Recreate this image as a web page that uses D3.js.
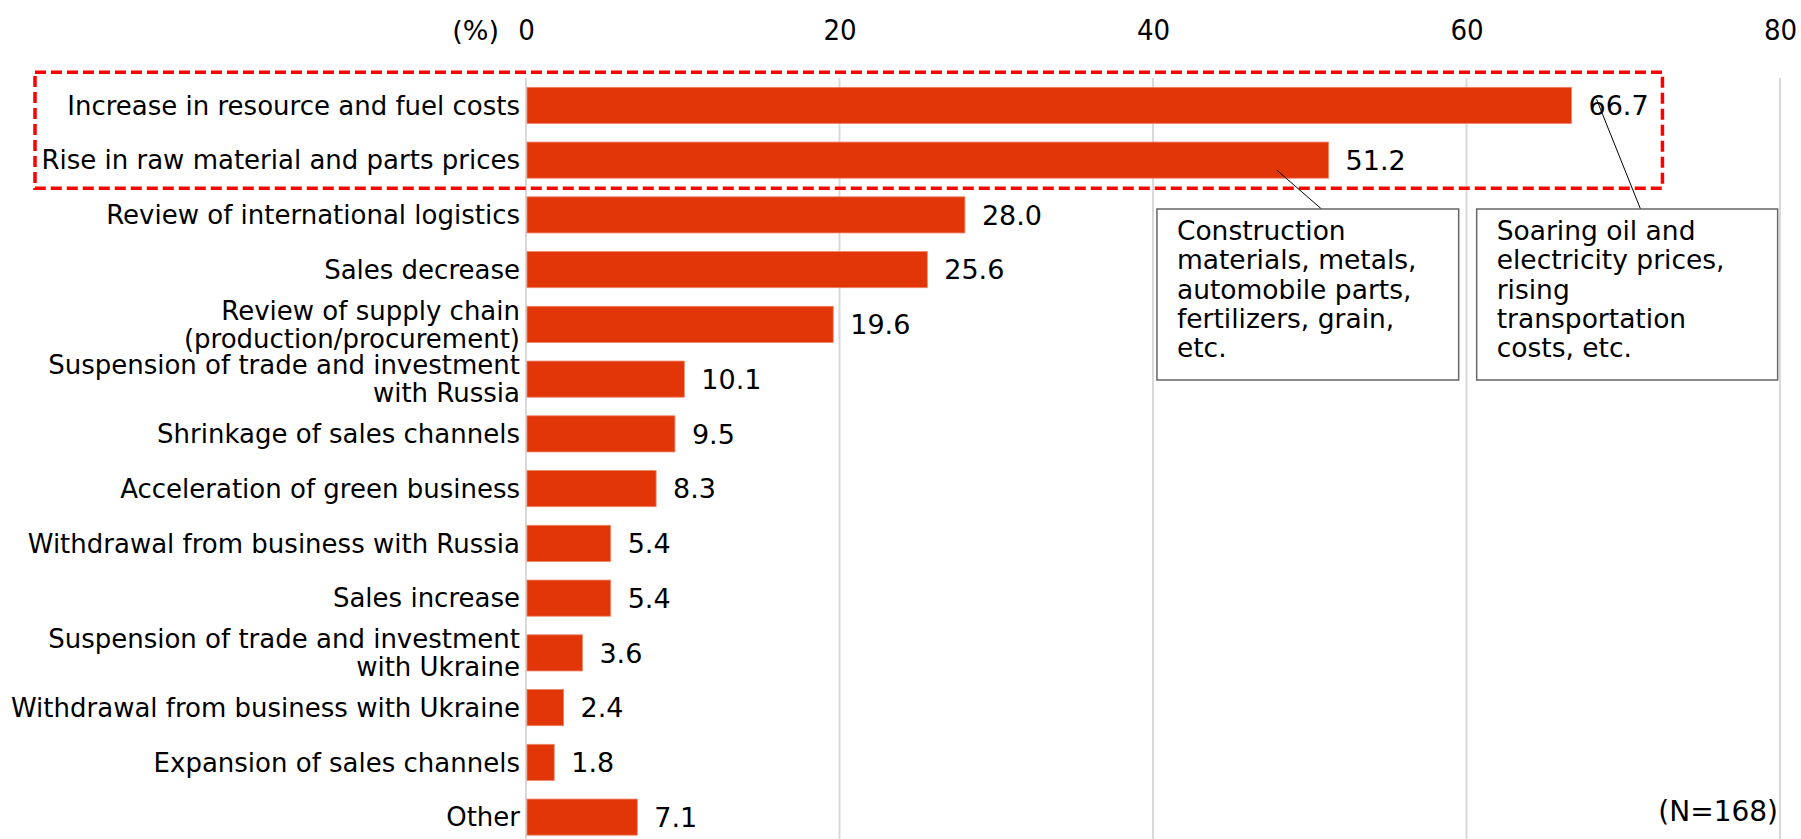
<!DOCTYPE html>
<html>
<head>
<meta charset="utf-8">
<script src="https://cdn.jsdelivr.net/npm/d3@7"></script>
<style>
  html, body { margin: 0; padding: 0; background: #fff; }
  svg { display: block; }
</style>
</head>
<body>
<svg id="chart" width="1801" height="839"></svg>
<script>
// ---- data ----
const categories = [
  "Increase in resource and fuel costs",
  "Rise in raw material and parts prices",
  "Review of international logistics",
  "Sales decrease",
  "Review of supply chain\n(production/procurement)",
  "Suspension of trade and investment\nwith Russia",
  "Shrinkage of sales channels",
  "Acceleration of green business",
  "Withdrawal from business with Russia",
  "Sales increase",
  "Suspension of trade and investment\nwith Ukraine",
  "Withdrawal from business with Ukraine",
  "Expansion of sales channels",
  "Other"
];
const values = [66.7, 51.2, 28.0, 25.6, 19.6, 10.1, 9.5, 8.3, 5.4, 5.4, 3.6, 2.4, 1.8, 7.1];
const xTicks = [0, 20, 40, 60, 80];
const unitLabel = "(%)";
const noteLabel = "(N=168)";
const calloutMaterials = ["Construction", "materials, metals,", "automobile parts,", "fertilizers, grain,", "etc."];
const calloutFuel = ["Soaring oil and", "electricity prices,", "rising", "transportation", "costs, etc."];

// ---- layout ----
const svg = d3.select("#chart");
const W = 1801, H = 839;
const x0 = 526, x1 = 1780;
const x = d3.scaleLinear().domain([0, 80]).range([x0, x1]);
const y = d3.scaleBand().domain(categories).range([78, 844.5]).paddingInner(0.34).paddingOuter(0.17);

const FONT = "'DejaVu Sans', Verdana, sans-serif";
const barColor = "#E23508";

// gridlines
svg.append("g").selectAll("line").data(xTicks).join("line")
  .attr("x1", d => x(d)).attr("x2", d => x(d))
  .attr("y1", 78).attr("y2", H)
  .attr("stroke", "#d9d9d9").attr("stroke-width", 2);

// top axis tick labels
const ax = d3.axisTop(x).tickValues(xTicks).tickSize(0).tickPadding(0).tickFormat(d3.format("d"));
const axG = svg.append("g").attr("transform", "translate(0,30)").call(ax);
axG.select(".domain").remove();
axG.selectAll("text")
  .attr("dy", "0.36em")
  .attr("fill", "#000")
  .style("font-family", "'DejaVu Sans Condensed', 'DejaVu Sans', sans-serif")
  .style("font-stretch", "condensed")
  .style("font-size", "29px");

svg.append("text")
  .attr("x", 499).attr("y", 30).attr("dy", "0.36em")
  .attr("text-anchor", "end")
  .style("font-family", FONT).style("font-size", "27px")
  .text(unitLabel);

// bars
svg.append("g").selectAll("rect").data(values).join("rect")
  .attr("x", x(0) + 1)
  .attr("y", (d, i) => y(categories[i]))
  .attr("width", d => x(d) - x(0) - 1)
  .attr("height", y.bandwidth())
  .attr("fill", barColor)
  .attr("stroke", "#EE8466").attr("stroke-width", 0.8);

// value labels
svg.append("g").selectAll("text").data(values).join("text")
  .attr("x", d => x(d) + 17)
  .attr("y", (d, i) => y(categories[i]) + y.bandwidth() / 2)
  .attr("dy", "0.36em")
  .style("font-family", FONT).style("font-size", "27px")
  .attr("fill", "#000")
  .text(d => d3.format(".1f")(d));

// category labels
const catG = svg.append("g");
categories.forEach(c => {
  const lines = c.split("\n");
  const cy = y(c) + y.bandwidth() / 2;
  const lh = 28;
  const t = catG.append("text")
    .attr("text-anchor", "end")
    .style("font-family", FONT).style("font-size", "26px")
    .attr("fill", "#000");
  lines.forEach((ln, k) => {
    t.append("tspan")
      .attr("x", 520)
      .attr("y", cy + (k - (lines.length - 1) / 2) * lh)
      .attr("dy", "0.36em")
      .text(ln);
  });
});

// dashed highlight box around the top two categories
const boxTop = y(categories[0]) - 15;
const boxBottom = y(categories[1]) + y.bandwidth() + 10;
svg.append("rect")
  .attr("x", 35).attr("y", boxTop)
  .attr("width", x(72.5) - 35).attr("height", boxBottom - boxTop)
  .attr("fill", "none").attr("stroke", "#FF0000")
  .attr("stroke-width", 3.5).attr("stroke-dasharray", "11 5");

// callouts
const calloutTop = 209, calloutBottom = 380;
function callout(lines, left, right, fromX, fromY, toX) {
  svg.append("line")
    .attr("x1", x(fromX)).attr("y1", fromY)
    .attr("x2", x(toX)).attr("y2", calloutTop)
    .attr("stroke", "#000").attr("stroke-width", 1);
  svg.append("rect")
    .attr("x", x(left)).attr("y", calloutTop)
    .attr("width", x(right) - x(left)).attr("height", calloutBottom - calloutTop)
    .attr("fill", "#fff").attr("stroke", "#666").attr("stroke-width", 1.5);
  const t = svg.append("text")
    .style("font-family", FONT).style("font-size", "26.5px").attr("fill", "#000");
  lines.forEach((ln, k) => {
    t.append("tspan").attr("x", x(left) + 20).attr("y", calloutTop + 31 + k * 29.3).text(ln);
  });
}
callout(calloutMaterials, 40.25, 59.5, 47.9, y(categories[1]) + y.bandwidth() / 2 + 10, 50.75);
callout(calloutFuel, 60.65, 79.85, 68.3, y(categories[0]) + y.bandwidth() / 2 - 6, 71.1);

// N note
svg.append("text")
  .attr("x", 1778).attr("y", 821)
  .attr("text-anchor", "end")
  .style("font-family", FONT).style("font-size", "28px")
  .text(noteLabel);
</script>
</body>
</html>
